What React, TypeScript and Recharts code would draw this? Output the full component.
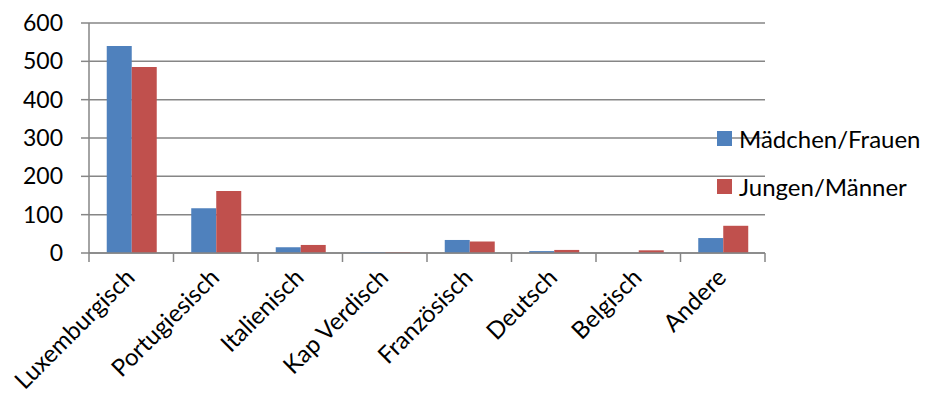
import { BarChart, Bar, XAxis, YAxis, CartesianGrid } from 'recharts'

const categories = ['Luxemburgisch', 'Portugiesisch', 'Italienisch', 'Kap Verdisch', 'Französisch', 'Deutsch', 'Belgisch', 'Andere']
const maedchen = [540, 117, 15, 2, 34, 5, 0, 39]
const jungen = [485, 162, 21, 2, 30, 8, 7, 71]
const yTicks = [0, 100, 200, 300, 400, 500, 600]

const series = [
    { key: 'maedchen', name: 'Mädchen/Frauen', color: '#4f81bd' },
    { key: 'jungen', name: 'Jungen/Männer', color: '#c0504d' }
]

const data = categories.map((name, i) => ({ name, maedchen: maedchen[i], jungen: jungen[i] }))

const FONT = 'Lato, "Open Sans", sans-serif'
const AXIS = '#868686'
const PLOT_W = 676

function CategoryTick(props: any) {
    const { x, y, payload, index } = props
    const half = PLOT_W / categories.length / 2
    const tx = x + 5
    const ty = y + 26
    return (
        <g>
            <line x1={x - half} y1={y} x2={x - half} y2={y + 9} stroke={AXIS} strokeWidth={1.5} />
            {index === categories.length - 1 && (
                <line x1={x + half} y1={y} x2={x + half} y2={y + 9} stroke={AXIS} strokeWidth={1.5} />
            )}
            <text
                x={tx}
                y={ty}
                textAnchor="end"
                transform={`rotate(-45, ${tx}, ${ty})`}
                fontSize={24}
                fontFamily={FONT}
                fill="#000"
            >
                {payload.value}
            </text>
        </g>
    )
}

export default function App() {
    return (
        <div style={{ position: 'absolute', left: 0, top: 0, width: 928, height: 400, background: '#fff' }}>
            <BarChart
                width={928}
                height={400}
                data={data}
                margin={{ top: 23, right: 163, bottom: 0, left: 0 }}
                barCategoryGap="21%"
                barGap={0}
            >
                <CartesianGrid vertical={false} stroke={AXIS} strokeWidth={1.5} />
                <XAxis
                    dataKey="name"
                    height={147}
                    interval={0}
                    tickLine={false}
                    tickSize={0}
                    tickMargin={0}
                    axisLine={{ stroke: AXIS, strokeWidth: 1.5 }}
                    tick={<CategoryTick />}
                />
                <YAxis
                    width={89}
                    domain={[0, 600]}
                    ticks={yTicks}
                    interval={0}
                    tickSize={8}
                    tickMargin={18}
                    tickLine={{ stroke: AXIS, strokeWidth: 1.5 }}
                    axisLine={{ stroke: AXIS, strokeWidth: 1.5 }}
                    tick={{ fontSize: 23, fontFamily: FONT, fill: '#000' }}
                />
                {series.map(s => (
                    <Bar key={s.key} dataKey={s.key} name={s.name} fill={s.color} isAnimationActive={false} />
                ))}
            </BarChart>
            <div style={{ position: 'absolute', left: 717, top: 114, fontFamily: FONT, fontSize: 24, color: '#000' }}>
                {series.map(s => (
                    <div key={s.key} style={{ display: 'flex', alignItems: 'center', height: 48 }}>
                        <div style={{ width: 15, height: 15, background: s.color, marginRight: 7 }} />
                        <span>{s.name}</span>
                    </div>
                ))}
            </div>
        </div>
    )
}
